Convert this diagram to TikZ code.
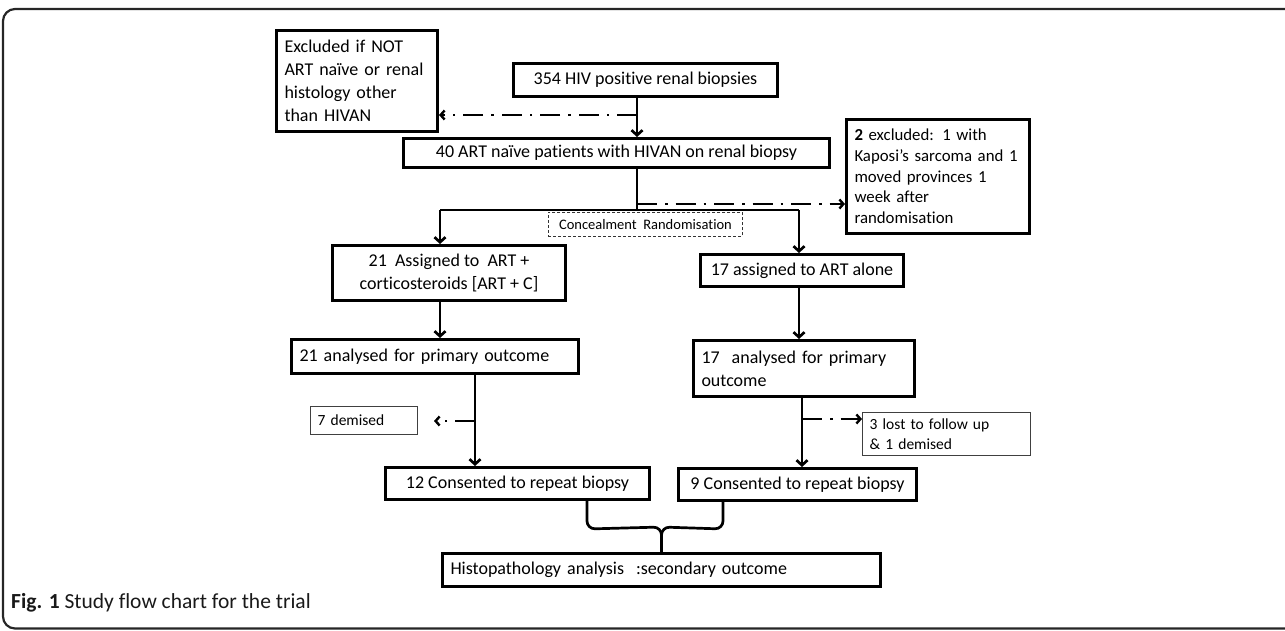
\documentclass[tikz,border=0pt]{standalone}
\usepackage{fontspec}
\setmainfont{Carlito}[Ligatures=NoCommon]
\usetikzlibrary{arrows.meta,calc}
\tikzset{
  box/.style={draw=black, line width=3pt, inner sep=0pt, align=center, font=\fontsize{18}{23}\selectfont, anchor=north west},
  lbox/.style={box, align=left, inner xsep=8pt},
  thinbox/.style={draw=black!75, line width=1.2pt, inner sep=0pt, align=left, inner xsep=7pt, font=\fontsize{15.5}{20.5}\selectfont, anchor=north west},
  arr/.style={line width=2.7pt, -{Straight Barb[length=5pt,width=11pt]}},
  ln/.style={line width=2.7pt},
  dd/.style={line width=2.4pt, dash pattern=on 20pt off 8pt on 2.5pt off 8pt, -{Straight Barb[length=4pt,width=9pt]}},
}
\begin{document}
\begin{tikzpicture}[x=1pt,y=-1pt]
\useasboundingbox (0,0) rectangle (1285,630);
% outer frame
\draw[black!85, line width=2.2pt, rounded corners=12pt] (1290,9) -- (3,9) -- (3,628.5) -- (1290,628.5);

% boxes
\node[lbox, text width=145pt, minimum height=101pt] (excl) at (275,29)
  {Excluded if NOT\\ART naïve or renal\\histology other\\than HIVAN};
\node[box, minimum width=264pt, minimum height=33pt] (b354) at (512,62)
  {354 HIV positive renal biopsies};
\node[box, minimum width=426pt, minimum height=29pt] (b40) at (402,137)
  {40 ART naïve patients with HIVAN on renal biopsy};
\node[lbox, text width=167pt, minimum height=114pt, font=\fontsize{16.8}{20.7}\selectfont] (kap) at (845,118)
  {\textbf{2} excluded: 1 with\\Kaposi’s sarcoma and 1\\moved provinces 1\\week after\\randomisation};
\node[draw=black!80, line width=0.9pt, densely dashed, minimum width=194pt, minimum height=24pt, inner sep=0pt,
      font=\fontsize{14.5}{17}\selectfont, anchor=north west] (conc) at (548,212)
  {Concealment\ \ Randomisation};
\node[box, minimum width=233pt, minimum height=55pt] (a21) at (331,244)
  {21\ \ Assigned to\ \ ART +\\corticosteroids [ART + C]};
\node[box, minimum width=203pt, minimum height=32pt] (a17) at (699,253)
  {17 assigned to ART alone};
\node[lbox, text width=271pt, minimum height=34pt] (p21) at (290,338)
  {21 analysed for primary outcome};
\node[lbox, text width=205pt, minimum height=56pt] (p17) at (692,339)
  {17\ \ analysed for primary\\outcome};
\node[thinbox, text width=93pt, minimum height=28pt] (d7) at (310,406)
  {7 demised};
\node[thinbox, text width=154pt, minimum height=43pt] (l3) at (862,412)
  {3 lost to follow up\\\& 1 demised};
\node[box, minimum width=264pt, minimum height=32pt] (c12) at (384,466)
  {12 Consented to repeat biopsy};
\node[box, minimum width=238pt, minimum height=32pt] (c9) at (677,467)
  {9 Consented to repeat biopsy};
\node[lbox, text width=422pt, minimum height=33pt] (hist) at (441,552)
  {Histopathology analysis\ \ :secondary outcome};
\node[anchor=west, inner sep=0pt, font=\fontsize{21.5}{25}\selectfont, text=black!90] (cap) at (11,603)
  {\textbf{Fig. 1} Study flow chart for the trial};

% column coordinates
\coordinate (x1) at (637,0);
\coordinate (xl) at (440,0);
\coordinate (xr) at (799,0);
\coordinate (xl2) at (475,0);
\coordinate (xr2) at (802,0);
\coordinate (bl) at (587,0);
\coordinate (br) at (723,0);
\coordinate (split) at (637,210);
\coordinate (exA) at (637,115);
\coordinate (exB) at (637,204);
\coordinate (d7A) at (475,421);
\coordinate (d7B) at (434,421);
\coordinate (l3A) at (802,419);

% connectors
\draw[arr] (b354.south -| x1) -- (b40.north -| x1);
\draw[dd] (exA) -- (exA -| excl.east);
\draw[ln] (b40.south -| x1) -- (split);
\draw[dd] (exB) -- (exB -| kap.west);
\draw[ln] (split -| xl) -- (split -| xr);
\draw[arr] (split -| xl) -- (a21.north -| xl);
\draw[arr] (split -| xr) -- (a17.north -| xr);
\draw[arr] (a21.south -| xl) -- (p21.north -| xl);
\draw[arr] (a17.south -| xr) -- (p17.north -| xr);
\draw[arr] (p21.south -| xl2) -- (c12.north -| xl2);
\draw[dd] (d7A) -- (d7B);
\draw[arr] (p17.south -| xr2) -- (c9.north -| xr2);
\draw[dd] (l3A) -- (l3A -| l3.west);
% brace
\draw[ln, rounded corners=8pt] (c12.south -| bl) -- ($(c12.south -| bl)+(0,28)$) -- ($(hist.north)+(0,-25)$) -- (hist.north);
\draw[ln, rounded corners=8pt] (c9.south -| br) -- ($(c9.south -| br)+(0,27)$) -- ($(hist.north)+(0,-25)$) -- (hist.north);
\end{tikzpicture}
\end{document}
